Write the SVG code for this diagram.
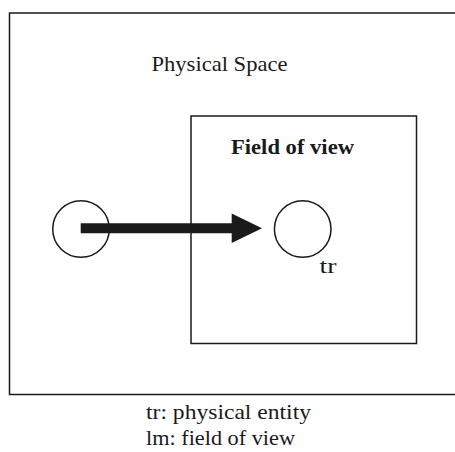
<svg xmlns="http://www.w3.org/2000/svg" width="455" height="452" viewBox="0 0 455 452">
<style>
.frame{fill:none;stroke:#1a1a1a;stroke-width:1.5}
.node{fill:#fff;stroke:#1a1a1a;stroke-width:1.5}
.t{font-family:"Liberation Serif","Times New Roman",serif;fill:#1a1a1a;font-size:22px}
.b{font-weight:bold}
</style>
<rect width="455" height="452" fill="#fff"/>
<g id="physical-space">
<rect class="frame" x="9.5" y="13" width="460" height="381.5"/>
<text class="t" x="151.5" y="71" textLength="136" lengthAdjust="spacingAndGlyphs">Physical Space</text>
</g>
<g id="field-of-view">
<rect class="frame" x="191" y="116" width="225.5" height="227.5"/>
<text class="t b" x="231" y="154" textLength="123" lengthAdjust="spacingAndGlyphs">Field of view</text>
</g>
<g id="entity-start">
<circle class="node" cx="81" cy="229" r="28.3"/>
</g>
<g id="entity-tr">
<circle class="node" cx="302.7" cy="229" r="28.3"/>
<text class="t" x="319.5" y="273" font-size="20" textLength="17" lengthAdjust="spacingAndGlyphs">tr</text>
</g>
<g id="connectors">
<line x1="80.7" y1="228.3" x2="233" y2="228.3" stroke="#1a1a1a" stroke-width="10"/>
<polygon points="231.7,213.5 262,228.3 231.7,243" fill="#1a1a1a"/>
</g>
<g id="legend">
<text class="t" x="146" y="419" textLength="165" lengthAdjust="spacingAndGlyphs">tr: physical entity</text>
<text class="t" x="146" y="445" textLength="149" lengthAdjust="spacingAndGlyphs">lm: field of view</text>
</g>
</svg>
